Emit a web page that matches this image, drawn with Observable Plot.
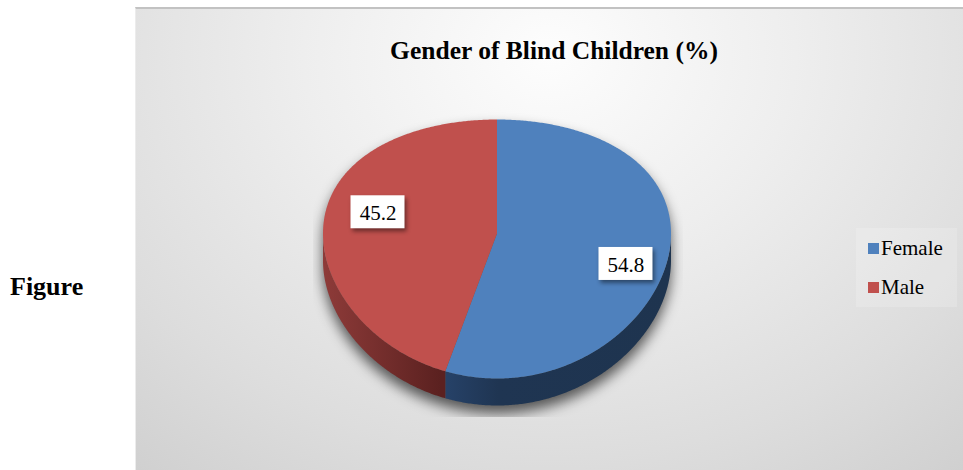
<!DOCTYPE html>
<html><head><meta charset="utf-8">
<script src="https://cdn.jsdelivr.net/npm/d3@7"></script>
<script src="https://cdn.jsdelivr.net/npm/@observablehq/plot@0.6"></script>
<style>
html,body{margin:0;padding:0;background:#fff;width:963px;height:470px;overflow:hidden;}
#wrap{position:relative;width:963px;height:470px;font-family:"Liberation Serif","Times New Roman",serif;color:#000;}
#panel{position:absolute;left:135px;top:7px;width:828px;height:463px;box-sizing:border-box;
 border-top:2px solid #c2c2c2;border-left:1px solid #ececec;
 background:radial-gradient(ellipse 85% 125% at 50% 10%, #fdfdfd 0%, #eeeeee 35%, #dddddd 70%, #cccccc 100%);}
#chart{position:absolute;left:0;top:0;}
#title{position:absolute;left:0;width:1108px;top:37.6px;text-align:center;font-weight:bold;font-size:25.5px;line-height:1;white-space:nowrap;}
#fig{position:absolute;left:10px;top:274px;font-weight:bold;font-size:26px;line-height:1;}
#legendbox{position:absolute;left:856px;top:228px;width:101px;height:79px;background:rgba(255,255,255,0.18);}
.sw{position:absolute;width:11px;height:11px;}
.lt{position:absolute;font-size:21px;line-height:1;white-space:nowrap;}
</style></head>
<body><div id="wrap"><div id="panel"></div><div id="legendbox"></div><div id="chart"></div><div id="title"></div><div id="fig"></div></div>
<script>
const categories = ["Female", "Male"];
const values = [54.8, 45.2];
const topColors = ["#4F81BD", "#C0504D"];
const titleText = "Gender of Blind Children (%)";
const figureLabel = "Figure";

// layout constants (pixels)
const W = 963, H = 470;
const CX = 496.5, CY = 233, RX = 174, RY = 129.5, DEPTH = 27;
const K = 0.1197;           // perspective bulge of the near half
const dUnit = DEPTH / RY;

const data = categories.map((c, i) => ({category: c, value: values[i], color: topColors[i]}));
const arcs = d3.pie().sort(null).value(d => d.value)(data);

function proj(a, r) {
  const u = r * Math.sin(a), v = -r * Math.cos(a);
  return {x: u, y: v + K * v * v};
}
function arcPts(a0, a1, r, yOff) {
  const n = Math.max(2, Math.ceil(Math.abs(a1 - a0) / (Math.PI / 360)));
  const pts = [];
  for (let i = 0; i <= n; i++) {
    const p = proj(a0 + (a1 - a0) * i / n, r);
    pts.push({x: p.x, y: p.y + (yOff || 0)});
  }
  return pts;
}

// top faces
const topFaces = [];
arcs.forEach(a => {
  const pts = [{x: 0, y: 0}, ...arcPts(a.startAngle, a.endAngle, 1), {x: 0, y: 0}];
  pts.forEach((p, i) => topFaces.push({...p, category: a.data.category, i}));
});

// side walls (near half only)
const sides = [];
arcs.forEach(a => {
  const s = Math.max(a.startAngle, Math.PI / 2), e = Math.min(a.endAngle, 3 * Math.PI / 2);
  if (e <= s) return;
  const upper = arcPts(s, e, 1, 0);
  const lower = arcPts(e, s, 1, dUnit);
  [...upper, ...lower].forEach((p, i) => sides.push({...p, category: a.data.category, i}));
});

// silhouette for shadow
const shadow = [...arcPts(-Math.PI / 2, Math.PI / 2, 1, 0), ...arcPts(Math.PI / 2, 3 * Math.PI / 2, 1, dUnit)]
  .map((p, i) => ({...p, i}));

// labels
const labelShift = 7 * Math.PI / 180, labelR = 0.74;
const halfW = 27 / RX, halfH = 16.5 / RY;
const labels = arcs.map(a => {
  const p = proj((a.startAngle + a.endAngle) / 2 + labelShift, labelR);
  return {x: p.x, y: p.y, text: String(a.data.value), x1: p.x - halfW, x2: p.x + halfW, y1: p.y - halfH, y2: p.y + halfH};
});

const chart = Plot.plot({
  width: W, height: H, margin: 0,
  style: {background: "transparent", overflow: "visible"},
  x: {domain: [-CX / RX, (W - CX) / RX], range: [0, W], axis: null},
  y: {domain: [-CY / RY, (H - CY) / RY], range: [0, H], axis: null},
  marks: [
    Plot.line(shadow, {x: "x", y: "y", fill: "#000", fillOpacity: 0.62, stroke: "none", dy: 8, ariaDescription: "pie-shadow"}),
    Plot.line(sides.filter(d => d.category === "Female"), {x: "x", y: "y", fill: "#1F3552", stroke: "none", ariaDescription: "side-female"}),
    Plot.line(sides.filter(d => d.category === "Male"), {x: "x", y: "y", fill: "#7A2F2D", stroke: "none", ariaDescription: "side-male"}),
    Plot.line(topFaces.filter(d => d.category === "Female"), {x: "x", y: "y", fill: topColors[0], stroke: "none"}),
    Plot.line(topFaces.filter(d => d.category === "Male"), {x: "x", y: "y", fill: topColors[1], stroke: "none"}),
    Plot.rect(labels, {x1: "x1", x2: "x2", y1: "y1", y2: "y2", fill: "white", dx: 5, dy: 4, ariaDescription: "label-box"}),
    Plot.text(labels, {x: "x", y: "y", text: "text", dx: 5, dy: 5, fontSize: 21, fill: "black", fontFamily: "Liberation Serif, Times New Roman, serif"})
  ]
});

const svg = d3.select(chart);
const defs = svg.insert("defs", ":first-child");
const gb = defs.append("linearGradient").attr("id", "sideBlueG").attr("gradientUnits", "userSpaceOnUse")
  .attr("x1", 440).attr("x2", 671).attr("y1", 0).attr("y2", 0);
gb.append("stop").attr("offset", 0).attr("stop-color", "#27436A");
gb.append("stop").attr("offset", 0.25).attr("stop-color", "#1F3552");
gb.append("stop").attr("offset", 1).attr("stop-color", "#1E344F");
const gr = defs.append("linearGradient").attr("id", "sideRedG").attr("gradientUnits", "userSpaceOnUse")
  .attr("x1", 322).attr("x2", 440).attr("y1", 0).attr("y2", 0);
gr.append("stop").attr("offset", 0).attr("stop-color", "#8E3B39");
gr.append("stop").attr("offset", 1).attr("stop-color", "#5B2120");
// shadow filter region (user space of the shifted group)
const f = defs.append("filter").attr("id", "pieShadowF").attr("filterUnits", "userSpaceOnUse")
  .attr("x", 313).attr("y", 100).attr("width", 369).attr("height", 308);
f.append("feGaussianBlur").attr("stdDeviation", 6.5);

const sel = d => svg.selectAll(`g[aria-description="${d}"]`);
sel("pie-shadow").attr("filter", "url(#pieShadowF)");
sel("side-female").attr("fill", "url(#sideBlueG)").selectAll("path").attr("fill", "url(#sideBlueG)");
sel("side-male").attr("fill", "url(#sideRedG)").selectAll("path").attr("fill", "url(#sideRedG)");
sel("label-box").style("filter", "drop-shadow(2px 3px 2px rgba(0,0,0,0.45))");

document.getElementById("chart").appendChild(chart);
document.getElementById("title").textContent = titleText;
document.getElementById("fig").textContent = figureLabel;

// legend
const wrap = document.getElementById("wrap");
const legendTop = [243, 282], textTop = [238.4, 276.6];
categories.forEach((c, i) => {
  const sw = document.createElement("div");
  sw.className = "sw"; sw.style.left = "868px"; sw.style.top = legendTop[i] + "px"; sw.style.background = topColors[i];
  wrap.appendChild(sw);
  const t = document.createElement("div");
  t.className = "lt"; t.style.left = "881px"; t.style.top = textTop[i] + "px"; t.textContent = c;
  wrap.appendChild(t);
});
</script>
</body></html>
